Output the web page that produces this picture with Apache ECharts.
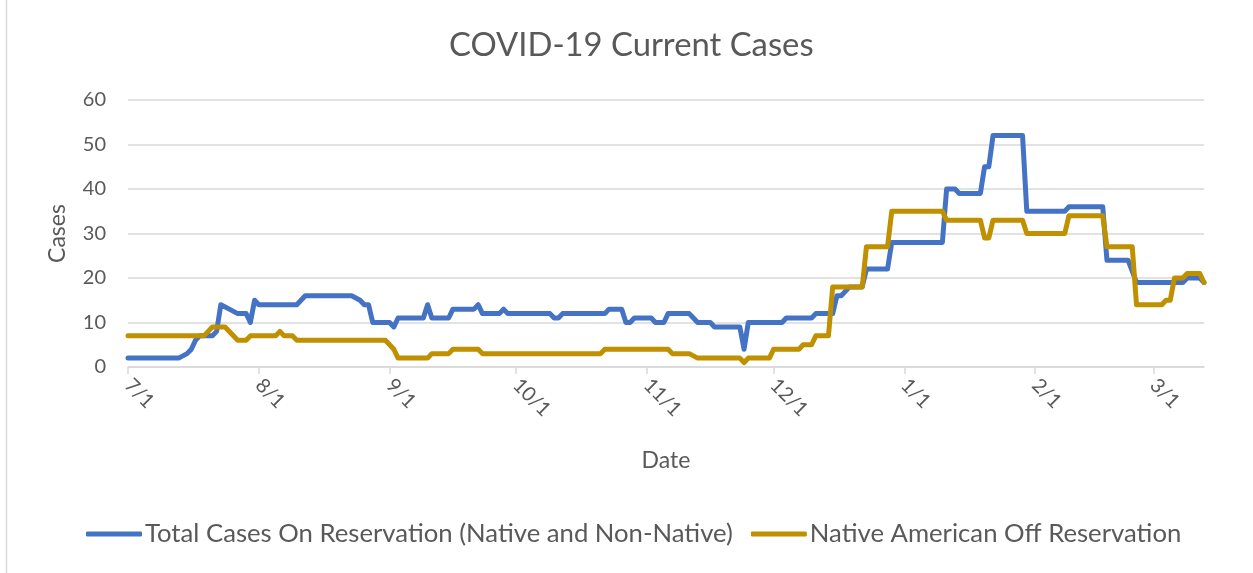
<!DOCTYPE html>
<html>
<head>
<meta charset="utf-8">
<script src="https://cdn.jsdelivr.net/npm/echarts@6/dist/echarts.min.js"></script>
<style>
html,body{margin:0;padding:0;background:#fff;}
#chart{width:1253px;height:573px;}
</style>
</head>
<body>
<div id="chart"></div>
<script>
// Dates (M/D, July–Dec 2020, Jan–Mar 2021) and values where each line changes
const totalDates = ['7/1','7/13','7/15','7/16','7/17','7/18','7/21','7/22','7/23','7/25','7/27','7/29','7/30','7/31',
  '8/1','8/10','8/11','8/12','8/23','8/25','8/26','8/27','8/28',
  '9/1','9/2','9/3','9/9','9/10','9/11','9/15','9/16','9/21','9/22','9/23','9/27','9/28','9/29',
  '10/9','10/10','10/11','10/12','10/22','10/23','10/26','10/27','10/28','10/29',
  '11/2','11/3','11/5','11/6','11/11','11/12','11/13','11/16','11/17','11/23','11/24','11/25',
  '12/3','12/4','12/10','12/11','12/15','12/16','12/17','12/18','12/19','12/22','12/23','12/28','12/29',
  '1/10','1/11','1/13','1/14','1/19','1/20','1/21','1/22','1/29','1/30',
  '2/8','2/9','2/17','2/18','2/23','2/25',
  '3/8','3/9','3/12','3/13'];
const totalValues = [2,2,3,4,6,7,7,8,14,13,12,12,10,15,
  14,14,15,16,16,15,14,14,10,
  10,9,11,11,14,11,11,13,13,14,12,12,13,12,
  12,11,11,12,12,13,13,10,10,11,
  11,10,10,12,12,11,10,10,9,9,4,10,
  10,11,11,12,12,16,16,17,18,18,22,22,28,
  28,40,40,39,39,45,45,52,52,35,
  35,36,36,24,24,19,
  19,20,20,19];

const offDates = ['7/1','7/19','7/20','7/21','7/24','7/27','7/29','7/30',
  '8/5','8/6','8/7','8/9','8/10','8/31',
  '9/1','9/2','9/3','9/10','9/11','9/15','9/16','9/22','9/23',
  '10/21','10/22',
  '11/6','11/7','11/11','11/13','11/23','11/24','11/25','11/30',
  '12/1','12/7','12/8','12/10','12/11','12/14','12/15','12/22','12/23','12/28','12/29',
  '1/10','1/11','1/19','1/20','1/21','1/22','1/29','1/30',
  '2/8','2/9','2/17','2/18','2/24','2/25',
  '3/3','3/4','3/5','3/6','3/8','3/9','3/12','3/13'];
const offValues = [7,7,8,9,9,6,6,7,
  7,8,7,7,6,6,
  5,4,2,2,3,3,4,4,3,
  3,4,
  4,3,3,2,2,1,2,2,
  4,4,5,5,7,7,18,18,27,27,35,
  35,33,33,29,29,33,33,30,
  30,34,34,27,27,14,
  14,15,15,20,20,21,21,19];

const tickLabels = ['7/1','8/1','9/1','10/1','11/1','12/1','1/1','2/1','3/1'];
const lastDate = '3/13';

function dayIndex(md) {
  const p = md.split('/').map(Number);
  const y = p[0] >= 7 ? 2020 : 2021;
  return Math.round((Date.UTC(y, p[0] - 1, p[1]) - Date.UTC(2020, 6, 1)) / 86400000);
}
function pairs(dates, vals) { return dates.map((d, i) => [dayIndex(d), vals[i]]); }

const tickValues = tickLabels.map(dayIndex);
const labelByDay = {};
tickLabels.forEach(t => { labelByDay[dayIndex(t)] = t; });

const FONT = 'Lato';
const GRAY = '#595959';

const chart = echarts.init(document.getElementById('chart'), null, {renderer: 'canvas'});
chart.setOption({
  animation: false,
  backgroundColor: '#ffffff',
  title: {
    text: 'COVID-19 Current Cases',
    left: 449,
    top: 29,
    padding: 0,
    textStyle: {fontFamily: FONT, fontSize: 32.8, fontWeight: 'normal', color: GRAY}
  },
  legend: {
    bottom: 26,
    left: 86,
    icon: 'roundRect',
    itemWidth: 56,
    itemHeight: 5,
    itemGap: 18,
    padding: 0,
    textStyle: {fontFamily: FONT, fontSize: 25.7, color: GRAY, padding: [0, 0, 0, -2]},
    data: ['Total Cases On Reservation (Native and Non-Native)', 'Native American Off Reservation']
  },
  grid: {left: 128, right: 49, top: 100, bottom: 206, containLabel: false, outerBoundsMode: 'none'},
  xAxis: {
    type: 'value',
    min: 0,
    max: dayIndex(lastDate),
    name: 'Date',
    nameLocation: 'middle',
    nameGap: 82,
    nameTextStyle: {fontFamily: FONT, fontSize: 23, color: GRAY},
    axisLine: {show: true, lineStyle: {color: '#d9d9d9', width: 1.5}},
    axisTick: {show: true, length: 7, lineStyle: {color: '#d9d9d9', width: 1.5}, customValues: tickValues},
    axisLabel: {
      rotate: -45,
      margin: 15,
      fontFamily: FONT, fontSize: 20, color: GRAY,
      customValues: tickValues,
      formatter: v => labelByDay[v] || ''
    },
    splitLine: {show: false}
  },
  yAxis: {
    type: 'value',
    min: 0,
    max: 60,
    interval: 10,
    name: 'Cases',
    nameLocation: 'middle',
    nameGap: 59,
    nameTextStyle: {fontFamily: FONT, fontSize: 23, color: GRAY},
    axisLine: {show: false},
    axisTick: {show: false},
    axisLabel: {margin: 22, fontFamily: FONT, fontSize: 20, color: GRAY},
    splitLine: {show: true, lineStyle: {color: '#d9d9d9', width: 1.5}}
  },
  series: [
    {
      name: 'Total Cases On Reservation (Native and Non-Native)',
      type: 'line',
      data: pairs(totalDates, totalValues),
      showSymbol: false,
      symbol: 'none',
      color: '#4472C4',
      lineStyle: {color: '#4472C4', width: 5, join: 'round', cap: 'round'}
    },
    {
      name: 'Native American Off Reservation',
      type: 'line',
      data: pairs(offDates, offValues),
      showSymbol: false,
      symbol: 'none',
      color: '#BF9000',
      lineStyle: {color: '#BF9000', width: 5, join: 'round', cap: 'round'}
    }
  ],
  graphic: [
    {type: 'line', shape: {x1: 6.5, y1: 0, x2: 6.5, y2: 573}, style: {stroke: '#d9d9d9', lineWidth: 1.5}, silent: true}
  ]
});
</script>
</body>
</html>
